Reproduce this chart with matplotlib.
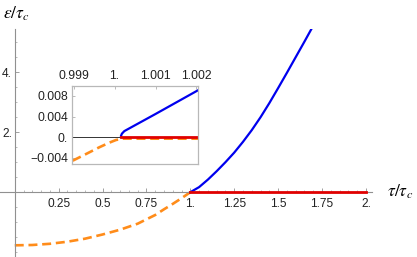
import matplotlib
matplotlib.use("Agg")
import matplotlib.pyplot as plt
from matplotlib.ticker import FixedLocator, FixedFormatter

plt.rcParams['mathtext.fontset'] = 'stix'
plt.rcParams['font.family'] = ['Liberation Sans', 'DejaVu Sans']

# main curves
orange_x = [0, 0.1, 0.2, 0.3, 0.4, 0.5, 0.6, 0.7, 0.8, 0.85, 0.9, 0.95, 1.0]
orange_y = [-1.77, -1.76, -1.72, -1.65, -1.55, -1.41, -1.25, -1.05, -0.76, -0.57, -0.39, -0.2, 0]
blue_x = [1.0, 1.05, 1.1, 1.15, 1.2, 1.25, 1.3, 1.35, 1.4, 1.45, 1.5, 1.55, 1.6, 1.65, 1.7]
blue_y = [0, 0.17, 0.42, 0.70, 1.0, 1.32, 1.68, 2.07, 2.5, 2.97, 3.47, 3.98, 4.5, 5.02, 5.55]
red_x = [1.0, 2.0]
red_y = [0, 0]

xticks = [0.25, 0.5, 0.75, 1.0, 1.25, 1.5, 1.75, 2.0]
xlabels = ["0.25", "0.5", "0.75", "1.", "1.25", "1.5", "1.75", "2."]
yticks = [2, 4]
ylabels = ["2.", "4."]

# inset curves
in_orange_x = [0.99898, 0.999305, 0.999629, 0.999873, 1.000037, 1.0002, 1.000444, 1.00204]
in_orange_y = [-0.00452, -0.00323, -0.00193, -0.00104, -0.00052, -0.00027, -0.00027, -0.00027]
in_blue_x = [1.00016, 1.00018, 1.00024, 1.001, 1.00204]
in_blue_y = [0.0003, 0.0007, 0.0012, 0.0045, 0.0091]
in_red_x = [1.00017, 1.00204]
in_red_y = [0.0001, 0.0001]

in_xticks = [0.999, 1.0, 1.001, 1.002]
in_xlabels = ["0.999", "1.", "1.001", "1.002"]
in_yticks = [-0.004, 0.0, 0.004, 0.008]
in_ylabels = ["\u22120.004", "0.", "0.004", "0.008"]

c_orange = '#ff8c1a'
c_blue = '#0000ee'
c_red = '#e00000'
dash = (0, (3.4, 1.8))

W, H = 417, 257
fig = plt.figure(figsize=(W / 100, H / 100), dpi=100)

ax = fig.add_axes([0, 0, 371.7 / W, (H - 29.3) / H])
ax.set_xlim(-0.084, 2.033)
ax.set_ylim(-2.16, 5.43)
ax.patch.set_alpha(0)
for s in ['top', 'right']:
    ax.spines[s].set_visible(False)
ax.spines['left'].set_position(('data', 0))
ax.spines['bottom'].set_position(('data', 0))
for s in ['left', 'bottom']:
    ax.spines[s].set_color('#909090')
    ax.spines[s].set_linewidth(0.8)

ax.plot(orange_x, orange_y, color=c_orange, lw=1.9, ls=dash, clip_on=False)
ax.plot(blue_x, blue_y, color=c_blue, lw=1.6)
ax.plot(red_x, red_y, color=c_red, lw=2.0, zorder=3)

ax.xaxis.set_major_locator(FixedLocator(xticks))
ax.xaxis.set_major_formatter(FixedFormatter(xlabels))
ax.xaxis.set_minor_locator(FixedLocator([i * 0.05 for i in range(1, 41)]))
ax.yaxis.set_major_locator(FixedLocator(yticks))
ax.yaxis.set_major_formatter(FixedFormatter(ylabels))
ax.yaxis.set_minor_locator(FixedLocator([-2 + i * 0.5 for i in range(15)]))
ax.tick_params(axis='both', which='major', direction='in', length=3, width=0.6,
               color='#909090', labelsize=8.6, labelcolor='#222222')
ax.tick_params(axis='both', which='minor', direction='in', length=1.6, width=0.5,
               color='#a0a0a0')
ax.tick_params(axis='x', which='major', pad=4.5)
ax.tick_params(axis='y', which='major', pad=2)

fig.text(400 / W, 1 - 192 / H, r'$\tau/\tau_c$', fontsize=12.5, ha='center', va='center')
fig.text(16 / W, 1 - 14 / H, r'$\varepsilon/\tau_c$', fontsize=12.5, ha='center', va='center')

# inset
axi = fig.add_axes([72.3 / W, (H - 164) / H, (198.3 - 72.3) / W, (164 - 86) / H])
axi.set_xlim(0.99897, 1.002044)
axi.set_ylim(-0.00516, 0.00991)
for s in axi.spines.values():
    s.set_color('#b8b8b8')
    s.set_linewidth(0.9)
axi.axhline(0, color='#333333', lw=0.7)
axi.plot(in_orange_x, in_orange_y, color=c_orange, lw=1.9, ls=dash)
axi.plot(in_blue_x, in_blue_y, color=c_blue, lw=1.6)
axi.plot(in_red_x, in_red_y, color=c_red, lw=2.0)

axi.xaxis.tick_top()
axi.xaxis.set_major_locator(FixedLocator(in_xticks))
axi.xaxis.set_major_formatter(FixedFormatter(in_xlabels))
axi.yaxis.set_major_locator(FixedLocator(in_yticks))
axi.yaxis.set_major_formatter(FixedFormatter(in_ylabels))
axi.tick_params(axis='both', direction='in', length=2, width=0.5, color='#a0a0a0',
                labelsize=8.8, labelcolor='#222222', pad=3)

fig.savefig('out.png', dpi=100)
